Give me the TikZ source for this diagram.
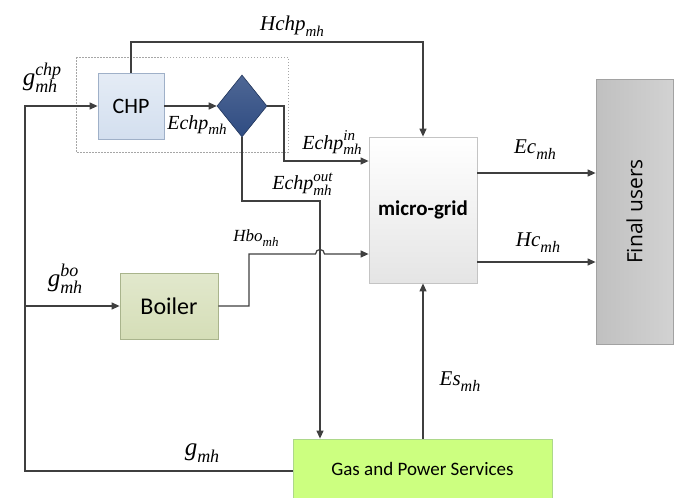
\documentclass[tikz,border=0pt]{standalone}
\usepackage{fontspec}
\setmainfont{Liberation Serif}
\newfontfamily\boxfont{Carlito}
\newfontfamily\fufont{Open Sans}
\usetikzlibrary{shapes.geometric,arrows.meta,calc}
\definecolor{linec}{HTML}{3F3F3F}
\definecolor{chpfill}{HTML}{D3DFEF}
\definecolor{chpdraw}{HTML}{9FB0C8}
\definecolor{diafill}{HTML}{2F4C82}
\definecolor{boilfill}{HTML}{D5DEB7}
\definecolor{boildraw}{HTML}{A9B48C}
\definecolor{mgfill}{HTML}{F0F0F0}
\definecolor{mgdraw}{HTML}{C4C4C4}
\definecolor{fuleft}{HTML}{C0C0C0}
\definecolor{furight}{HTML}{D2D2D2}
\definecolor{fudraw}{HTML}{A2A2A2}
\definecolor{gasfill}{HTML}{CCFF80}
\definecolor{gasdraw}{HTML}{ADD88A}
% label: #1 base size, #2 small size, #3 base, #4 sup, #5 sub
\newcommand\Lab[5]{{\fontsize{#1}{#1}\selectfont\itshape #3%
\rlap{\raisebox{0.42em}{\fontsize{#2}{#2}\selectfont\itshape #4}}%
\raisebox{-0.28em}{\fontsize{#2}{#2}\selectfont\itshape #5}}}
\begin{document}
\begin{tikzpicture}[x=1pt,y=-1pt,
  conn/.style={draw=linec,line width=1.2pt},
  arr/.style={conn,-{Triangle[length=8pt,width=7pt]}},
  blk/.style={rectangle,inner sep=0pt,line width=0.8pt},
  lbl/.style={inner sep=0pt}]
\useasboundingbox (0,0) rectangle (675,498);
% dotted frame
\draw[gray!70,dash pattern=on 1.5pt off 1.5pt,line width=0.7pt] (76,57) rectangle (288,152);
% blocks
\node[blk,draw=chpdraw,top color=chpfill!60,bottom color=chpfill,minimum width=66pt,minimum height=66pt,font=\boxfont\fontsize{22}{22}\selectfont] (chp) at (131,106) {CHP};
\node[diamond,draw=diafill!70!black,line width=0.6pt,top color=diafill!85!white,bottom color=diafill,minimum width=50pt,minimum height=62pt,inner sep=0pt] (dia) at (242,106) {};
\node[blk,draw=boildraw,top color=boilfill!70,bottom color=boilfill,minimum width=98pt,minimum height=66pt,font=\boxfont\fontsize{24}{24}\selectfont] (boiler) at (169,306) {Boiler};
\node[blk,draw=mgdraw,top color=white,bottom color=mgfill!90!gray,minimum width=108pt,minimum height=146pt,font=\boxfont\bfseries\fontsize{21}{21}\selectfont] (mg) at (423,210) {micro-grid};
\node[blk,draw=fudraw,left color=fuleft,right color=furight,minimum width=77pt,minimum height=265pt] (fu) at (634.5,211.5) {};
\node[lbl,rotate=90,font=\fufont\fontsize{21}{21}\selectfont] (fut) at (fu.center) {Final users};
\node[blk,draw=gasdraw,fill=gasfill,minimum width=259pt,minimum height=59pt,font=\boxfont\fontsize{19}{19}\selectfont] (gas) at (422.5,468.5) {Gas and Power Services};
% helper coordinates
\coordinate (htop) at (300,42);
\coordinate (gl) at (25,471);
\coordinate (bl) at (25,306);
\coordinate (ein) at (284,161);
\coordinate (eo) at (320,201);
\coordinate (hb) at (249,254);
\coordinate (ec) at (477,173);
\coordinate (hcc) at (477,262);
% connectors
\draw[arr] (chp.north) |- (htop) -| (mg.north);
\draw[arr] (gas.west |- gl) -- (gl) |- (chp.west);
\draw[arr] (bl) -- (boiler.west);
\draw[arr] (chp.east) -- (dia.west);
\draw[arr] (dia.east) -| (ein) -- (ein -| mg.west);
\draw[arr] (dia.south) |- (eo) -- (eo |- gas.north);
\draw[arr] (boiler.east) -| (hb) -- (315.5,254) .. controls (315.5,248) and (324.5,248) .. (324.5,254) -- (hb -| mg.west);
\draw[arr] (ec -| mg.east) -- (ec -| fu.west);
\draw[arr] (hcc -| mg.east) -- (hcc -| fu.west);
\draw[arr] (mg.south |- gas.north) -- (mg.south);
% labels
\node[lbl] (lhchp) at (292,26) {\Lab{21}{15}{Hchp}{}{mh}};
\node[lbl] (lgchp) at (40,78) {\Lab{25}{18}{g}{chp}{mh}};
\node[lbl] (lechp) at (197,125) {\Lab{20}{15}{Echp}{}{mh}};
\node[lbl] (lein) at (332,143) {\Lab{20}{15}{Echp}{in}{mh}};
\node[lbl] (leout) at (302,184) {\Lab{20}{15}{Echp}{out}{mh}};
\node[lbl] (lhbo) at (256,238) {\Lab{17}{13}{Hbo}{}{mh}};
\node[lbl] (lgbo) at (65,279) {\Lab{25}{18}{g}{bo}{mh}};
\node[lbl] (lg) at (202,453) {\Lab{25}{18}{g}{}{mh}};
\node[lbl] (lec) at (535,150) {\Lab{21}{16}{Ec}{}{mh}};
\node[lbl] (lhc) at (538,243) {\Lab{21}{16}{Hc}{}{mh}};
\node[lbl] (les) at (460,382) {\Lab{21}{16}{Es}{}{mh}};
\end{tikzpicture}
\end{document}
